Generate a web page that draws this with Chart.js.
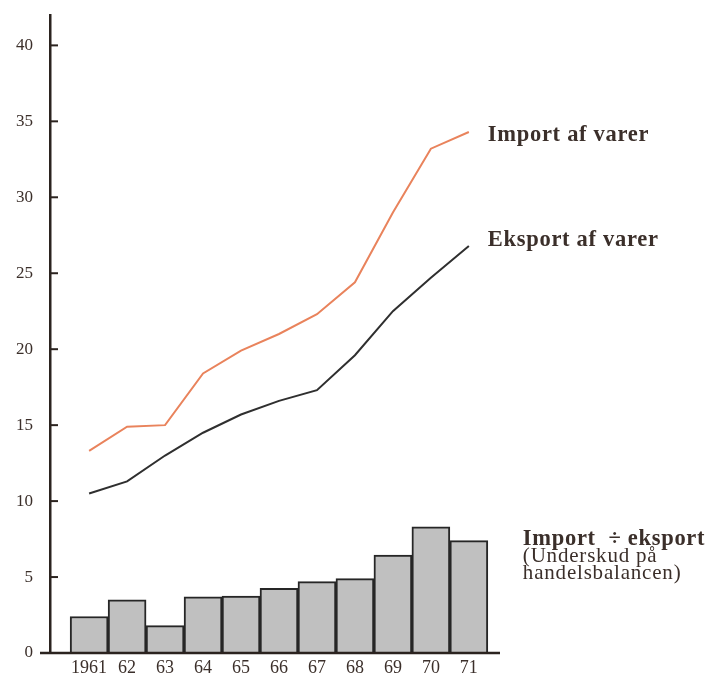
<!DOCTYPE html>
<html>
<head>
<meta charset="utf-8">
<script src="https://cdn.jsdelivr.net/npm/chart.js@4/dist/chart.umd.min.js"></script>
<style>
  html, body { margin: 0; padding: 0; background: #ffffff; }
  #wrap { width: 709px; height: 680px; position: relative; }
</style>
</head>
<body>
<div id="wrap"><canvas id="c" width="709" height="680"></canvas></div>
<script>
// ---- data ----
const years = ['1961', '62', '63', '64', '65', '66', '67', '68', '69', '70', '71'];
const importVals = [13.3, 14.9, 15.0, 18.4, 19.9, 21.0, 22.3, 24.4, 29.0, 33.2, 34.3];
const exportVals = [10.5, 11.3, 13.0, 14.5, 15.7, 16.6, 17.3, 19.6, 22.5, 24.7, 26.8];
const deficitVals = [2.4, 3.5, 1.8, 3.7, 3.75, 4.25, 4.7, 4.9, 6.45, 8.3, 7.4];
const yTicks = [0, 5, 10, 15, 20, 25, 30, 35, 40];
const labelImport = 'Import af varer';
const labelExport = 'Eksport af varer';
const labelDeficit = ['Import  \u00f7 eksport', '(Underskud på', 'handelsbalancen)'];

const INK = '#3b2f2a';
const SERIF = '"Liberation Serif", "DejaVu Serif", serif';

const toXY = arr => arr.map((v, i) => ({ x: i, y: v }));

const decor = {
  id: 'decor',
  afterDraw(chart) {
    const { ctx, chartArea, scales } = chart;
    const ys = scales.y, xs = scales.x;
    ctx.save();
    // extension of baseline to the left of the y axis
    ctx.strokeStyle = '#2b231f';
    ctx.lineWidth = 2.5;
    ctx.beginPath();
    ctx.moveTo(chartArea.left - 10, ys.getPixelForValue(0));
    ctx.lineTo(chartArea.right, ys.getPixelForValue(0));
    ctx.stroke();
    // inward tick marks on the y axis
    ctx.lineWidth = 2;
    yTicks.forEach(t => {
      if (t === 0) return;
      const py = ys.getPixelForValue(t);
      ctx.beginPath();
      ctx.moveTo(chartArea.left, py);
      ctx.lineTo(chartArea.left + 8, py);
      ctx.stroke();
    });
    // series labels
    const last = years.length - 1;
    const lx = xs.getPixelForValue(last) + 19;
    ctx.fillStyle = INK;
    ctx.textBaseline = 'middle';
    ctx.textAlign = 'left';
    ctx.letterSpacing = '0.7px';
    ctx.font = 'bold 22.5px ' + SERIF;
    ctx.fillText(labelImport, lx, ys.getPixelForValue(importVals[last]) + 3);
    ctx.fillText(labelExport, lx, ys.getPixelForValue(exportVals[last]) - 6);
    const dx = lx + 35;
    const dy = ys.getPixelForValue(deficitVals[last]);
    ctx.fillText(labelDeficit[0], dx, dy - 1);
    ctx.letterSpacing = '0.8px';
    ctx.font = '21px ' + SERIF;
    ctx.fillText(labelDeficit[1], dx, dy + 16);
    ctx.fillText(labelDeficit[2], dx, dy + 33);
    ctx.restore();
  }
};

new Chart(document.getElementById('c'), {
  data: {
    datasets: [
      {
        type: 'line',
        label: labelImport,
        data: toXY(importVals),
        borderColor: '#e9835c',
        borderWidth: 2,
        pointRadius: 0,
        tension: 0,
        fill: false,
        order: 1
      },
      {
        type: 'line',
        label: labelExport,
        data: toXY(exportVals),
        borderColor: '#2f2f2f',
        borderWidth: 2,
        pointRadius: 0,
        tension: 0,
        fill: false,
        order: 1
      },
      {
        type: 'bar',
        label: labelDeficit[0],
        data: toXY(deficitVals),
        backgroundColor: '#c0c0c0',
        borderColor: '#262626',
        borderWidth: 2,
        borderSkipped: 'start',
        barPercentage: 1,
        categoryPercentage: 1,
        order: 2
      }
    ]
  },
  options: {
    responsive: false,
    animation: false,
    events: [],
    layout: { padding: { top: 15, right: 209, left: 0, bottom: 0 } },
    plugins: { legend: { display: false }, tooltip: { enabled: false } },
    scales: {
      x: {
        type: 'linear',
        min: -1.03,
        max: 10.82,
        offset: false,
        grid: { display: false, drawTicks: false },
        border: { display: false },
        afterBuildTicks: s => { s.ticks = years.map((_, i) => ({ value: i })); },
        afterFit: s => { s.height = 27; s.paddingLeft = 0; s.paddingRight = 0; },
        ticks: {
          autoSkip: false,
          maxRotation: 0,
          padding: 4,
          color: INK,
          font: { family: SERIF, size: 18 },
          callback: (v) => years[Math.round(v)]
        }
      },
      y: {
        type: 'linear',
        min: 0,
        max: 42,
        grid: { display: false, drawTicks: false },
        border: { display: true, color: '#2b231f', width: 2.5 },
        afterBuildTicks: s => { s.ticks = yTicks.map(v => ({ value: v })); },
        afterFit: s => { s.width = 50; s.paddingTop = 0; s.paddingBottom = 0; },
        ticks: {
          padding: 17,
          color: INK,
          font: { family: SERIF, size: 17 },
          callback: v => String(v)
        }
      }
    }
  },
  plugins: [decor]
});
</script>
</body>
</html>
